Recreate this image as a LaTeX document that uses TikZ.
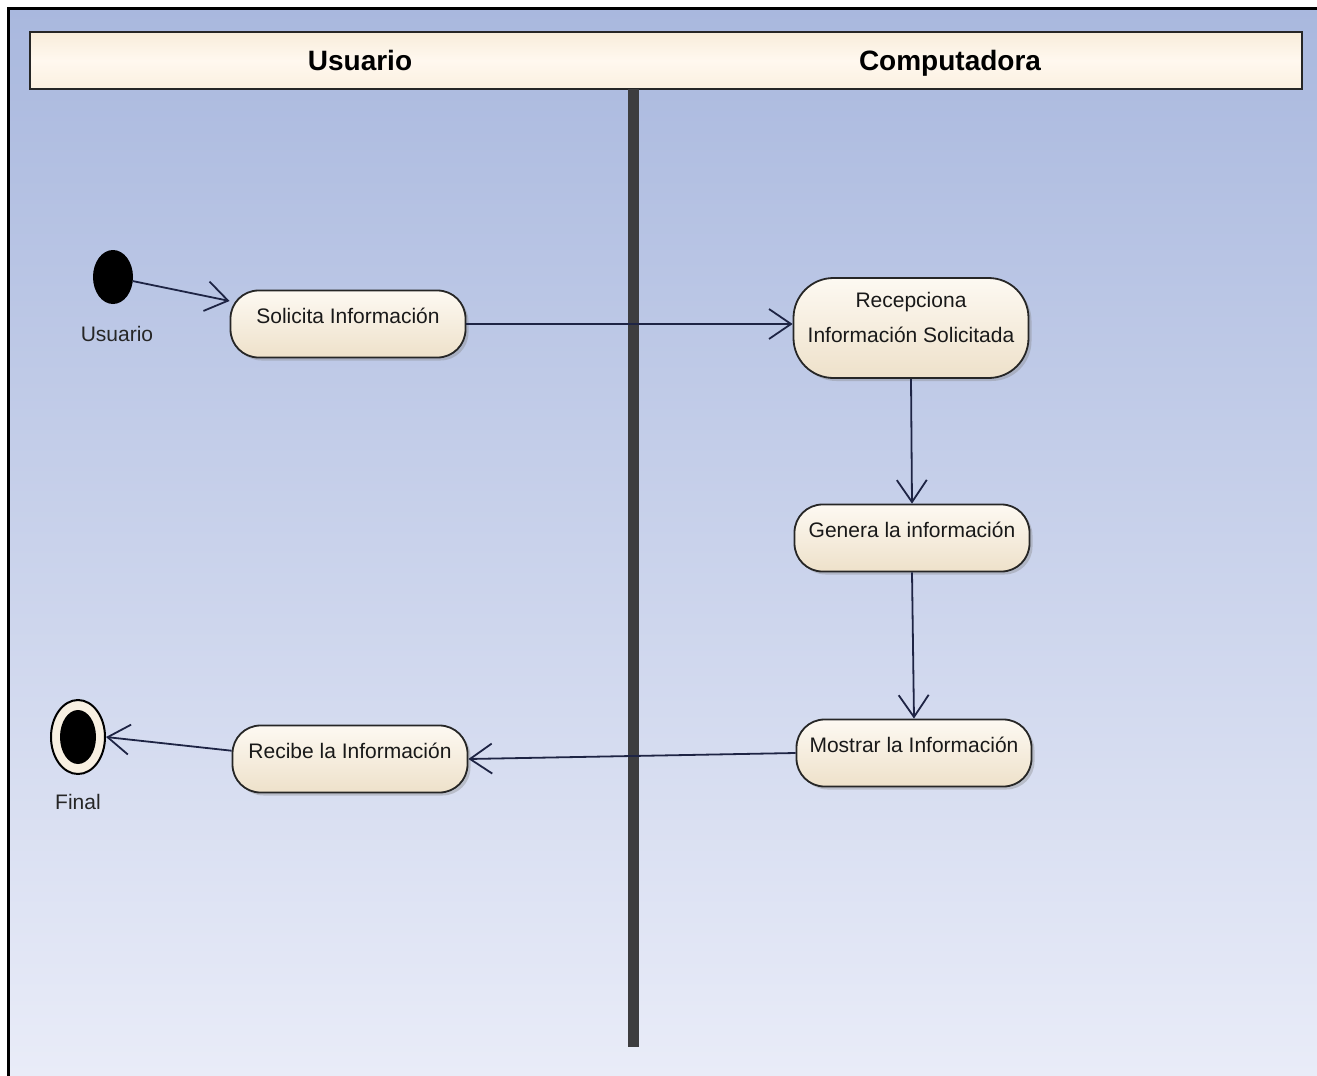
\documentclass[tikz,border=0pt]{standalone}
\usepackage{fontspec}
\setmainfont{Liberation Sans}
\usetikzlibrary{arrows.meta,shadows,shapes.geometric}
\definecolor{bgtop}{HTML}{A9B8DE}
\definecolor{bgbot}{HTML}{E9ECF8}
\definecolor{cream}{HTML}{F8F0E2}
\definecolor{creamtop}{HTML}{FDF9F2}
\definecolor{creambot}{HTML}{EEE1CA}
\definecolor{hdrtop}{HTML}{F8EDDB}
\definecolor{hdrmid}{HTML}{FFF8EF}
\definecolor{hdrbot}{HTML}{FBF0E0}
\definecolor{edgec}{HTML}{1E2444}
\definecolor{barc}{HTML}{3D3D3F}
\begin{document}
\begin{tikzpicture}[x=1pt,y=1pt,
  act/.style={draw=black!85, line width=1.8pt, rounded corners=28pt,
    top color=creamtop, bottom color=creambot,
    minimum width=235pt, minimum height=67pt, inner sep=0pt,
    font=\fontsize{21}{35}\selectfont, text=black!90,
    text height=15pt, text depth=16pt,
    drop shadow={shadow xshift=3pt, shadow yshift=-3pt, opacity=0.35}},
  flow/.style={draw=edgec, line width=1.8pt,
    -{Straight Barb[length=22pt,width=30pt,line width=1.8pt]}},
  lbl/.style={font=\fontsize{21}{25}\selectfont, text=black!85, inner sep=0pt},
  lanetitle/.style={font=\bfseries\fontsize{28}{32}\selectfont, text=black,
    inner sep=0pt, anchor=base}
]
\useasboundingbox (0,-1076) rectangle (1317,0);
\fill[white] (0,-1076) rectangle (1317,0);
\shade[top color=bgtop, bottom color=bgbot] (8,-1076) rectangle (1317,-8);
\draw[line width=3pt, line cap=rect] (8,-1076) -- (8,-8) -- (1317,-8);

% header
\node (hdr) [draw=black!85, line width=2pt, top color=hdrtop, bottom color=hdrbot,
  middle color=hdrmid, minimum width=1272pt, minimum height=57pt, inner sep=0pt]
  at (666,-60.5) {};
\node[lanetitle] (laneu) at (360,-70) {Usuario};
\node[lanetitle] (lanec) at (950,-70) {Computadora};

% partition bar
\node (bar) [fill=barc, minimum width=11pt, minimum height=958pt, inner sep=0pt]
  at (633,-568) {};

% start
\node (start) [ellipse, fill=black, minimum width=40pt, minimum height=54pt, inner sep=0pt]
  at (113,-277) {};
\node[lbl] (startlbl) at (117,-334) {Usuario};

% activities
\node[act] (sol) at (348,-324) {Solicita Información};
\node[act, minimum height=100pt, rounded corners=40pt, align=center,
  text height=, text depth=22pt] (rcp) at (911,-328)
  {Recepciona\\Información Solicitada};
\node[act] (gen) at (912,-538) {Genera la información};
\node[act] (mos) at (914,-753) {Mostrar la Información};
\node[act] (rec) at (350,-759) {Recibe la Información};

% final
\node (fin) [ellipse, draw=black, line width=2pt, fill=cream,
  minimum width=54pt, minimum height=74pt, inner sep=0pt] at (78,-737) {};
\node (finin) [ellipse, fill=black, minimum width=36pt, minimum height=54pt, inner sep=0pt]
  at (fin.center) {};
\node[lbl] (finlbl) at (78,-802) {Final};

% flows
\draw[flow] (start) -- (sol.169);
\draw[flow] (sol.east) -- (sol.east -| rcp.west);
\draw[flow] (rcp.south) -- (gen.north);
\draw[flow] (gen.south) -- (mos.north);
\draw[flow] (mos.west) -- (rec.east);
\draw[flow] (rec.176) -- (fin.east);
\end{tikzpicture}
\end{document}
